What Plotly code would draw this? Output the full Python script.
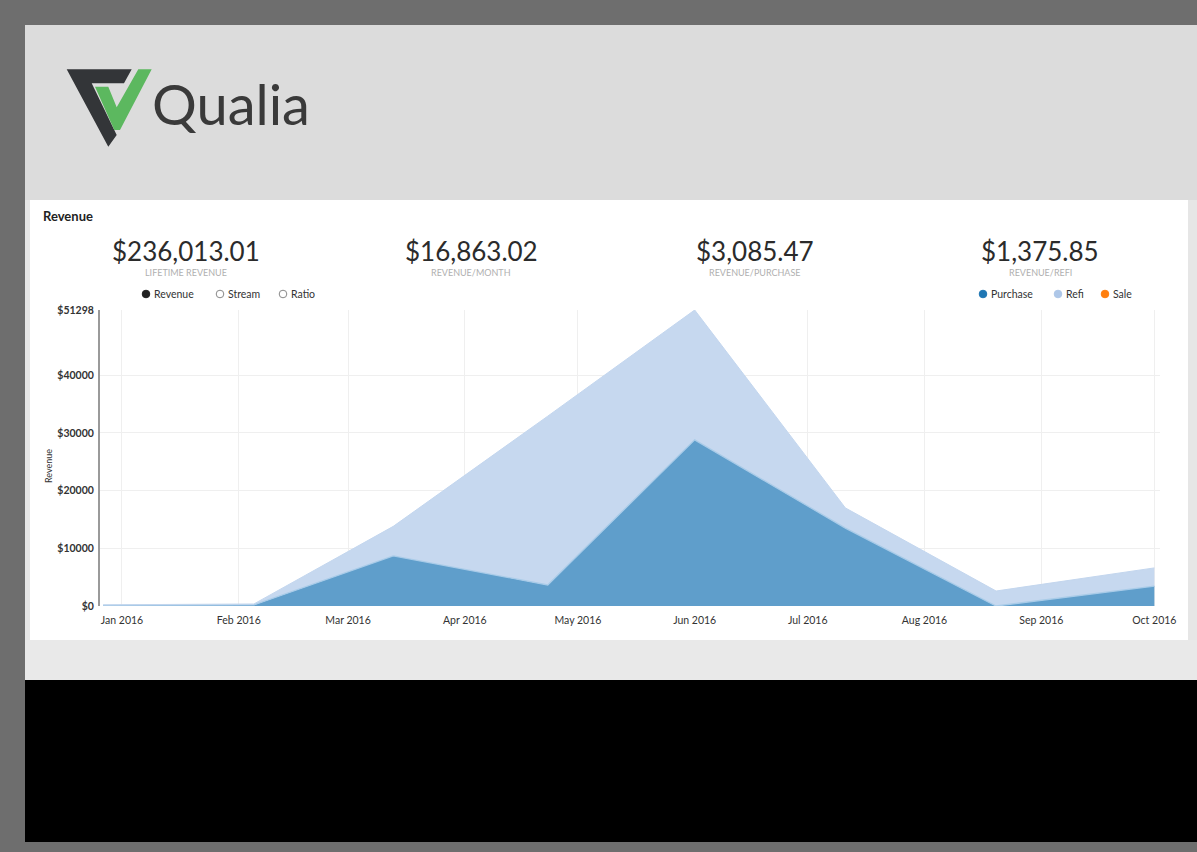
import plotly.graph_objects as go

# ---------------- data ----------------
dates = ["2015-12-27", "2016-02-05", "2016-03-13", "2016-04-23",
         "2016-06-01", "2016-07-11", "2016-08-20", "2016-10-01"]
purchase = [120, 180, 8700, 3650, 28800, 13500, 0, 3450]
refi = [80, 170, 5100, 29250, 22498, 3500, 2600, 3150]
sale = [0, 0, 0, 0, 0, 0, 0, 0]

month_ticks = ["2016-01-01", "2016-02-01", "2016-03-01", "2016-04-01", "2016-05-01",
               "2016-06-01", "2016-07-01", "2016-08-01", "2016-09-01", "2016-10-01"]
y_ticks = [0, 10000, 20000, 30000, 40000, 51298]
y_tick_text = ["$0", "$10000", "$20000", "$30000", "$40000", "$51298"]

kpi_values = ["$236,013.01", "$16,863.02", "$3,085.47", "$1,375.85"]
kpi_labels = ["LIFETIME REVENUE", "REVENUE/MONTH", "REVENUE/PURCHASE", "REVENUE/REFI"]

left_legend = ["Revenue", "Stream", "Ratio"]
right_legend = ["Purchase", "Refi", "Sale"]
series_colors = ["#1f77b4", "#aec7e8", "#ff7f0e"]

# ---------------- geometry helpers (pixel -> paper) ----------------
W, H = 1197, 852
L, R, T, B = 100, 1160, 310, 606
PW, PH = R - L, B - T


def fx(x):
    return (x - L) / PW


def fy(y):
    return (B - y) / PH


FONT = "Lato"

fig = go.Figure()
fig.add_trace(go.Scatter(x=dates, y=purchase, name="Purchase", stackgroup="rev", mode="lines",
                         line=dict(width=1.3, color="#a8cbe8"), fillcolor="#5f9ecb",
                         hoverinfo="skip"))
fig.add_trace(go.Scatter(x=dates, y=refi, name="Refi", stackgroup="rev", mode="lines",
                         line=dict(width=1, color="#c3d6ee"), fillcolor="#c6d8ef",
                         hoverinfo="skip"))
fig.add_trace(go.Scatter(x=dates, y=sale, name="Sale", stackgroup="rev", mode="lines",
                         line=dict(width=0, color="#ff7f0e"), fillcolor="rgba(255,127,14,0)",
                         hoverinfo="skip"))

shapes = []


def rect(x0, y0, x1, y1, color):
    shapes.append(dict(type="rect", xref="paper", yref="paper", layer="below",
                       x0=fx(x0), x1=fx(x1), y0=fy(y1), y1=fy(y0),
                       fillcolor=color, line=dict(width=0)))


rect(25, 25, 1197, 200, "#dcdcdc")
rect(25, 200, 1197, 640, "#e6e6e6")
rect(30, 200, 1188, 640, "#ffffff")
rect(25, 640, 1197, 680, "#e9e9e9")
rect(25, 680, 1197, 842, "#000000")


def poly(points, color):
    path = "M " + " L ".join(f"{fx(x):.5f},{fy(y):.5f}" for x, y in points) + " Z"
    shapes.append(dict(type="path", xref="paper", yref="paper", layer="below",
                       path=path, fillcolor=color, line=dict(width=0)))


poly([(66.7, 69.3), (131.7, 69.3), (124, 83.3), (91.7, 83.3), (116.7, 135), (108.3, 146.7)], "#333538")
poly([(95, 86.7), (108.3, 86.7), (116.7, 107.3), (138.3, 69.3), (151.7, 69.3), (120, 130), (114.3, 130)], "#5cb85f")


def dot(cx, cy, r, fill, line_color):
    shapes.append(dict(type="circle", xref="paper", yref="paper", layer="above",
                       x0=fx(cx - r), x1=fx(cx + r), y0=fy(cy + r), y1=fy(cy - r),
                       fillcolor=fill, line=dict(width=1, color=line_color)))


annotations = []


def text(x, y, s, size, color, xanchor="left", weight="normal", angle=0):
    annotations.append(dict(xref="paper", yref="paper", x=fx(x), y=fy(y), text=s,
                            showarrow=False, xanchor=xanchor, yanchor="middle",
                            textangle=angle,
                            font=dict(family=FONT, size=size, color=color, weight=weight)))


text(150, 103, "Qualia", 56, "#3a3a3a")
text(41, 216, "Revenue", 13, "#222222", weight="bold")

kpi_x = [186, 471, 755, 1040]
for xv, v, lab in zip(kpi_x, kpi_values, kpi_labels):
    text(xv, 251, v, 26, "#2b2b2b", xanchor="center")
    text(xv, 272, lab, 9, "#b0b0b0", xanchor="center")

left_pos = [146, 220, 283]
for i, (xp, lab) in enumerate(zip(left_pos, left_legend)):
    if i == 0:
        dot(xp, 294, 3.8, "#222222", "#222222")
    else:
        dot(xp, 294, 3.8, "#ffffff", "#888888")
    text(xp + 6, 294, lab, 10.5, "#333333")

right_pos = [983, 1058, 1105]
for xp, lab, c in zip(right_pos, right_legend, series_colors):
    dot(xp, 294, 3.8, c, c)
    text(xp + 6, 294, lab, 10.5, "#333333")

text(48, 466, "Revenue", 9, "#333333", xanchor="center", angle=-90)

fig.update_layout(
    width=W, height=H, autosize=False,
    margin=dict(l=L, r=W - R, t=T, b=H - B, pad=0),
    paper_bgcolor="#6e6e6e", plot_bgcolor="rgba(0,0,0,0)",
    showlegend=False, shapes=shapes, annotations=annotations,
    xaxis=dict(type="date", range=["2015-12-26 04:00", "2016-10-02 12:00"],
               tickvals=month_ticks, tickformat="%b %Y", showgrid=True,
               gridcolor="#efefef", gridwidth=1, zeroline=False, showline=False,
               ticks="", ticklabelstandoff=6,
               tickfont=dict(family=FONT, size=10.5, color="#333333")),
    yaxis=dict(range=[0, 51298], tickvals=y_ticks, ticktext=y_tick_text,
               showgrid=True, gridcolor="#efefef", gridwidth=1, zeroline=False,
               showline=True, linecolor="#9a9a9a", linewidth=2, ticks="",
               ticklabelstandoff=2,
               tickfont=dict(family=FONT, size=10.5, color="#333333", weight="bold")),
)

fig.write_html(
    "out.html",
    config={"displayModeBar": False},
    post_script="document.body.style.margin='0';document.body.style.overflow='hidden';"
                "document.body.style.background='#6e6e6e';",
)
